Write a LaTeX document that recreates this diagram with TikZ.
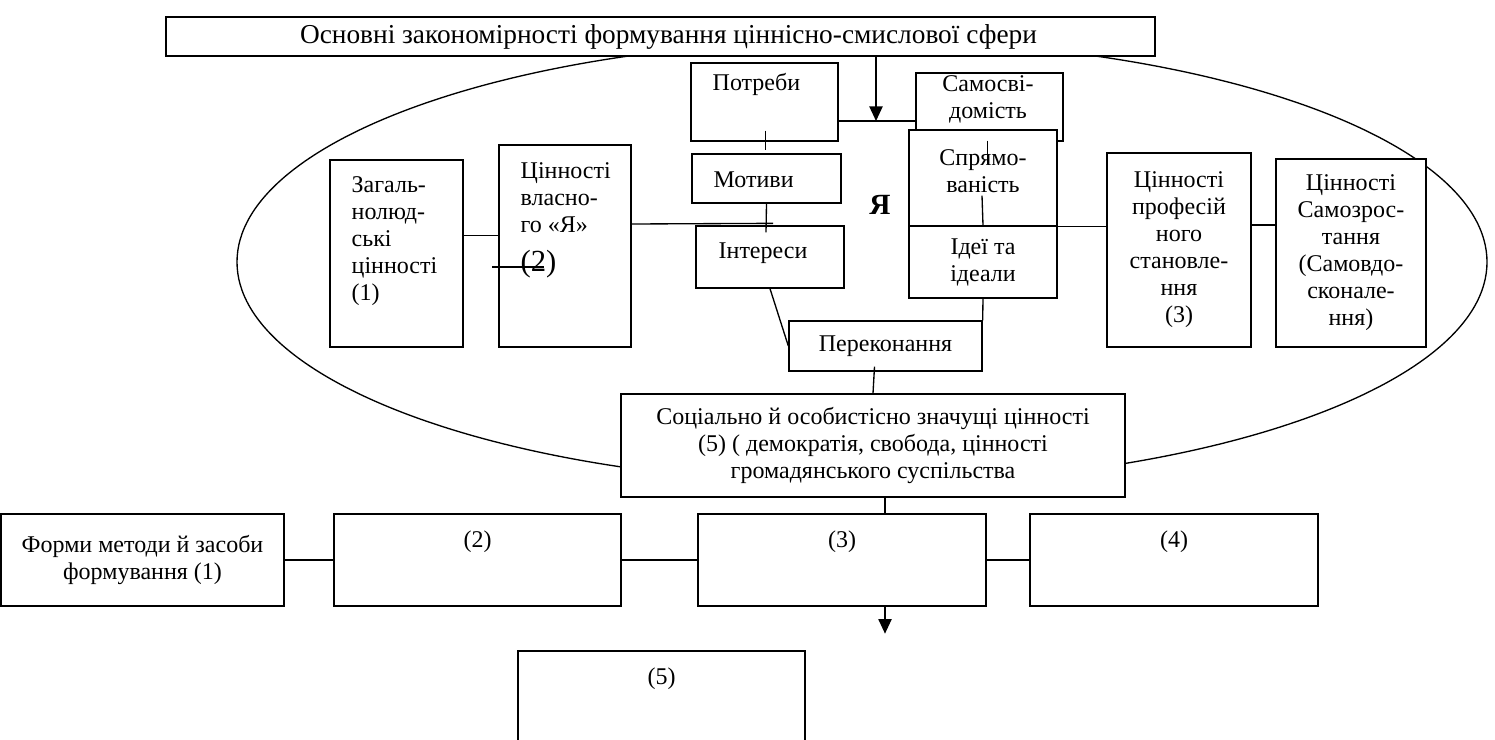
\documentclass[tikz,border=0pt]{standalone}
\usepackage{fontspec}
\setmainfont{Liberation Serif}
\usetikzlibrary{positioning,calc,arrows.meta}

\tikzset{
  box/.style={draw, fill=white, inner sep=0pt},
  sz/.style 2 args={minimum width=#1*0.75pt, minimum height=#2*0.75pt},
  txt/.style={inner sep=0pt},
  tip/.style={-{Triangle[length=11pt,width=10pt]}}
}

\begin{document}
\begin{tikzpicture}[x=0.75pt, y=-0.75pt, line width=1pt,
  every node/.style={font=\fontsize{18}{20.25}\selectfont}]

\useasboundingbox (0,0) rectangle (1495,739);

\draw (862,262) ellipse [x radius=625, y radius=222];

\node[box, sz={989}{39}, font=\fontsize{20.5}{24}\selectfont] (title) at (660.5,36.5)
  {\hspace*{12pt}Основні закономірності формування ціннісно-смислової сфери};

\node[box, sz={147}{78}] (potr) at (764.5,102) {};
\node[txt, anchor=west] (potrt) at (712,84) {Потреби};
\node[box, sz={147}{68}] (samo) at (989.5,107) {};
\node[txt, align=center] (samot) at (988,99) {Самосві-\\домість};
\node[box, sz={148}{96}] (sprja) at (983,178) {};
\node[txt, align=center] (sprjat) at (983,171) {Спрямо-\\ваність};
\node[box, sz={148}{72}, align=center] (idei) at (983,262) {Ідеї та\\ідеали};

\node[box, sz={149}{49}] (motv) at (766.5,178.5) {};
\node[txt, anchor=west] (motvt) at (713,180) {Мотиви};
\node[box, sz={148}{62}] (inter) at (770,257) {};
\node[txt, anchor=west] (intert) at (718,253) {Інтереси};
\node[box, sz={193}{50}] (perek) at (885.5,346) {Переконання};

\node[box, sz={133}{187}] (zag) at (396.5,253.5) {};
\node[txt, anchor=west, align=left] (zagt) at (351,241)
  {Загаль-\\нолюд-\\ські\\цінності\\(1)};
\node[box, sz={132}{202}] (vlas) at (565,246) {};
\node[txt, anchor=west, align=left] (vlast) at (520,220)
  {Цінності\\власно-\\го «Я»\\[9pt]{\fontsize{23}{26}\selectfont(2)}};

\node[box, sz={144}{194}, align=center] (prof) at (1179,250)
  {Цінності\\професій\\ного\\становле-\\ння\\(3)};
\node[box, sz={150}{188}, align=center] (samz) at (1351,253)
  {Цінності\\Самозрос-\\тання\\(Самовдо-\\сконале-\\ння)};

\node[font=\bfseries\fontsize{22}{26}\selectfont, inner sep=0pt] (ya) at (880,205) {Я};

\node[box, sz={504}{103}, align=center] (soc) at (873,445.5)
  {Соціально й особистісно значущі цінності\\(5) ( демократія, свобода, цінності\\громадянського суспільства};

% top part
\coordinate (arrtip) at (876,121);
\draw[tip] (title.south -| arrtip) -- (arrtip);
\draw (potr.east |- arrtip) -- (samo.west |- arrtip);
\draw ($(potr.south)+(1,-11)$) -- ($(potr.south)+(1,8)$);
\draw (motv.south) -- ($(inter.north)+(-4,7)$);
\draw ($(vlas.east)+(0,-22)$) -- ($(inter.north)+(3,-2)$);
\draw ($(zag.east)+(0,-18)$) coordinate (zv) -- (vlas.west |- zv);
\draw ($(vlas.west)+(-6,21)$) -- ++(52,0);
\draw (inter.south) -- (perek.west);
\draw ($(perek.south)+(-11,-5)$) -- (soc.north);
\draw (idei.south) -- (perek.north east);
\draw ($(samo.south)+(-2,-1)$) -- ($(samo.south)+(-2,22)$);
\draw ($(sprja.south)+(-1,-31)$) -- (idei.north);
\draw (sprja.south east) -- (prof.west |- sprja.south east);
\draw ($(prof.east)+(0,-25)$) coordinate (ps) -- (samz.west |- ps);

% bottom row
\node[box, sz={283}{92}, align=center] (form) at (142.5,560) {Форми методи й засоби\\формування (1)};
\foreach \n/\xc/\w in {2/477.5/287, 3/842/288, 4/1174/288}
  \node[box, sz={\w}{92}] (b\n) at (\xc,560) {};
\node[box, sz={287}{94}] (b5) at (661.5,698) {};
\foreach \n in {2,...,5}
  \node[txt] (t\n) at ($(b\n.north)+(0,28)$) {(\n)};

\draw (form.east) -- (b2.west);
\draw (b2.east) -- (b3.west);
\draw (b3.east) -- (b4.west);
\draw ($(soc.south)+(12,0)$) coordinate (sb) -- (b3.north -| sb);
\coordinate (arr5) at ($(b3.south -| sb)+(0,27)$);
\draw[tip] (b3.south -| sb) -- (arr5);

\end{tikzpicture}
\end{document}
